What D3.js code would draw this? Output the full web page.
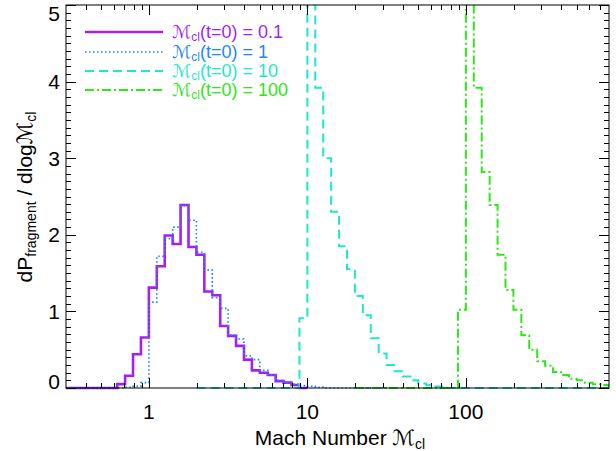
<!DOCTYPE html>
<html>
<head>
<meta charset="utf-8">
<script src="https://cdn.jsdelivr.net/npm/d3@7"></script>
<style>
  html, body { margin: 0; padding: 0; background: #fff; }
  svg { display: block; }
  text { font-family: "Liberation Sans", Arial, Helvetica, "DejaVu Sans", sans-serif; fill: #000; }
</style>
</head>
<body>
<svg id="chart" width="616" height="451"></svg>
<script>
// ---------------- data ----------------
const xDomain = [0.3, 800];
const yDomain = [0, 5];
const xMajorTicks = [1, 10, 100];
const xTickLabels = ["1", "10", "100"];
const yMajorTicks = [0, 1, 2, 3, 4, 5];
const yTickLabels = ["0", "1", "2", "3", "4", "5"];

const binDex = 0.05;           // histogram bin width in log10(Mach)

const legendValues = ["0.1", "1", "10", "100"];

// Mcl(t=0) = 0.1
const purpleStartLog = -0.2;
const purpleValues = [0.05, 0.16, 0.44, 0.66, 1.31, 1.59, 1.99, 1.88, 2.39, 1.84, 1.74, 1.26,
                      1.21, 0.81, 0.68, 0.55, 0.37, 0.23, 0.20, 0.17, 0.09, 0.07, 0.04];
const purpleExtent = [0.3, 10];

// Mcl(t=0) = 1
const blueStartLog = -0.15;
const blueValues = [0.01, 0.02, 0.07, 1.12, 1.72, 1.95, 2.10, 2.38, 2.19, 1.77, 1.54, 1.18,
                    1.04, 0.69, 0.64, 0.42, 0.37, 0.23, 0.17, 0.10, 0.07, 0.05, 0.03, 0.02, 0.01];
const blueExtent = [0.3, 36];

// Mcl(t=0) = 10
const cyanStartLog = 0.95;
const cyanValues = [0.91, 6.5, 3.92, 3.0, 2.3, 1.85, 1.55, 1.2, 0.95, 0.65, 0.45, 0.3,
                    0.22, 0.15, 0.1, 0.06, 0.04, 0.02];
const cyanExtent = [2, 800];

// Mcl(t=0) = 100
const greenStartLog = 1.95;
const greenValues = [1.02, 6.5, 3.92, 2.82, 2.39, 1.74, 1.28, 1.02, 0.69, 0.5, 0.35, 0.29,
                     0.21, 0.17, 0.12, 0.1, 0.07, 0.05, 0.04, 0.03];
const greenExtent = [20, 800];

// ---------------- layout ----------------
const svg = d3.select("#chart");
const plot = { left: 66, right: 609, top: 5, bottom: 388 };

const x = d3.scaleLog().domain(xDomain).range([plot.left, plot.right]);
const y = d3.scaleLinear().domain(yDomain).range([plot.bottom, plot.top]);

const series = [
  { start: purpleStartLog, values: purpleValues, extent: purpleExtent, color: "#a61ff2", width: 2.6, dash: null },
  { start: blueStartLog,   values: blueValues,   extent: blueExtent,   color: "#1e88f5", width: 1.7, dash: "1.6,2.4" },
  { start: cyanStartLog,   values: cyanValues,   extent: cyanExtent,   color: "#1fe6cf", width: 2,   dash: "9,5" },
  { start: greenStartLog,  values: greenValues,  extent: greenExtent,  color: "#2ee619", width: 2,   dash: "9,3,2,3" }
];

svg.append("defs").append("clipPath").attr("id", "clip")
  .append("rect")
  .attr("x", plot.left).attr("y", plot.top)
  .attr("width", plot.right - plot.left).attr("height", plot.bottom - plot.top + 2);

function stepPoints(s) {
  const pts = [[s.extent[0], 0]];
  const e0 = Math.pow(10, s.start);
  pts.push([e0, 0]);
  s.values.forEach((v, i) => {
    const a = Math.pow(10, s.start + i * binDex);
    const b = Math.pow(10, s.start + (i + 1) * binDex);
    pts.push([a, v]);
    pts.push([b, v]);
  });
  const eN = Math.pow(10, s.start + s.values.length * binDex);
  pts.push([eN, 0]);
  pts.push([s.extent[1], 0]);
  return pts;
}

const line = d3.line().x(d => x(d[0])).y(d => y(d[1]));

const g = svg.append("g").attr("clip-path", "url(#clip)");
series.forEach(s => {
  g.append("path")
    .attr("d", line(stepPoints(s)))
    .attr("fill", "none")
    .attr("stroke", s.color)
    .attr("stroke-width", s.width)
    .attr("stroke-dasharray", s.dash)
    .attr("stroke-linejoin", "miter");
});

// ---------------- axes ----------------
const axisG = svg.append("g").attr("stroke", "#000").attr("stroke-width", 1);
axisG.append("rect")
  .attr("x", plot.left).attr("y", plot.top)
  .attr("width", plot.right - plot.left).attr("height", plot.bottom - plot.top)
  .attr("fill", "none");

const majorLen = 10, minorLen = 5;
// x ticks (log)
const xMinor = [];
for (let dec = 0.1; dec <= 1000; dec *= 10) {
  for (let k = 2; k <= 9; k++) {
    const v = +(dec * k).toPrecision(6);
    if (v > xDomain[0] * 1.0001 && v < xDomain[1] * 0.9999) xMinor.push(v);
  }
}
const xTickData = xMajorTicks.map(v => ({ v, len: majorLen })).concat(xMinor.map(v => ({ v, len: minorLen })));
xTickData.forEach(t => {
  const px = Math.round(x(t.v)) + 0.5;
  axisG.append("line").attr("x1", px).attr("x2", px).attr("y1", plot.bottom).attr("y2", plot.bottom - t.len);
  axisG.append("line").attr("x1", px).attr("x2", px).attr("y1", plot.top).attr("y2", plot.top + t.len);
});
// y ticks
const yTickData = [];
for (let i = 0; i <= 50; i++) {
  const v = i / 10;
  yTickData.push({ v, len: (i % 10 === 0) ? majorLen : minorLen });
}
yTickData.forEach(t => {
  const py = Math.round(y(t.v)) + 0.5;
  axisG.append("line").attr("y1", py).attr("y2", py).attr("x1", plot.left).attr("x2", plot.left + t.len);
  axisG.append("line").attr("y1", py).attr("y2", py).attr("x1", plot.right).attr("x2", plot.right - t.len);
});

// tick labels
xMajorTicks.forEach((v, i) => {
  svg.append("text").attr("x", x(v)).attr("y", 419)
    .attr("text-anchor", "middle").attr("font-size", 21).text(xTickLabels[i]);
});
yMajorTicks.forEach((v, i) => {
  const cy = Math.max(13, Math.min(381, y(v)));
  svg.append("text").attr("x", 60).attr("y", cy).attr("dy", "0.36em")
    .attr("text-anchor", "end").attr("font-size", 21).text(yTickLabels[i]);
});

// axis titles
const xt = svg.append("text").attr("x", 340).attr("y", 445).attr("text-anchor", "middle").attr("font-size", 21);
xt.append("tspan").text("Mach Number ");
xt.append("tspan").attr("font-family", "DejaVu Sans").text("ℳ");
xt.append("tspan").attr("font-size", 14).attr("dy", 4).text("cl");

const yt = svg.append("text").attr("transform", "translate(32,197) rotate(-90)")
  .attr("text-anchor", "middle").attr("font-size", 21);
yt.append("tspan").text("dP");
yt.append("tspan").attr("font-size", 14).attr("dy", 4).text("fragment");
yt.append("tspan").attr("dy", -4).text(" / dlog");
yt.append("tspan").attr("font-family", "DejaVu Sans").text("ℳ");
yt.append("tspan").attr("font-size", 14).attr("dy", 4).text("cl");

// ---------------- legend ----------------
const legRowY = [32, 52, 71, 90];
series.forEach((s, i) => {
  const ly = legRowY[i];
  svg.append("line").attr("x1", 85).attr("x2", 163).attr("y1", ly).attr("y2", ly)
    .attr("stroke", s.color).attr("stroke-width", s.width).attr("stroke-dasharray", s.dash);
  const t = svg.append("text").attr("x", 172).attr("y", ly + 6).attr("font-size", 18).style("fill", s.color);
  t.append("tspan").attr("font-family", "DejaVu Sans").text("ℳ");
  t.append("tspan").attr("font-size", 12).attr("dy", 3).text("cl");
  t.append("tspan").attr("dy", -3).text("(t=0) = " + legendValues[i]);
});
</script>
</body>
</html>
